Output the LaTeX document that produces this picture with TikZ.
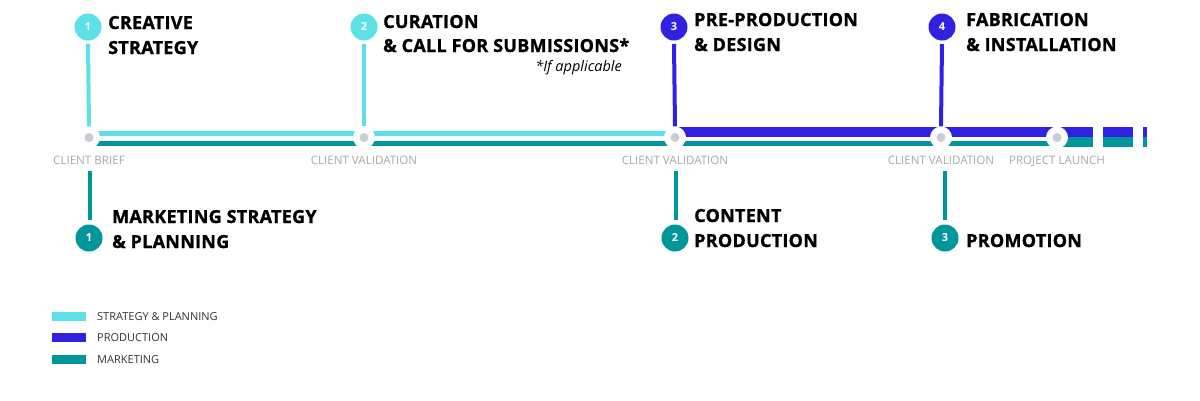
\documentclass[tikz,border=0pt]{standalone}
\usepackage{fontspec}
\setmainfont{Open Sans}
\newfontfamily\heavy[FakeBold=1.1,LetterSpace=1.5]{Open Sans}
\definecolor{cyanS}{HTML}{5CE1E6}
\definecolor{blueP}{HTML}{3022E0}
\definecolor{tealM}{HTML}{00979B}
\definecolor{dotgray}{HTML}{C9CED6}
\definecolor{lblgray}{HTML}{A8A8A8}
\definecolor{legtext}{HTML}{333333}
\tikzset{
  head/.style={anchor=base west, inner sep=0pt, font=\heavy\bfseries\fontsize{18}{22}\selectfont, text=black},
  num/.style={circle, minimum size=27pt, inner sep=0pt, font=\bfseries\fontsize{11}{13}\selectfont, text=white},
  milestone/.style={circle, fill=white, minimum size=22pt, inner sep=0pt},
  mdot/.style={circle, fill=dotgray, minimum size=9pt, inner sep=0pt},
  lbl/.style={anchor=base, inner sep=0pt, font=\fontsize{11.6}{13}\selectfont, text=lblgray},
  legtxt/.style={anchor=west, inner sep=0pt, font=\fontsize{11}{12}\selectfont, text=legtext},
}
\begin{document}
\begin{tikzpicture}[x=1pt,y=-1pt]
\useasboundingbox (0,0) rectangle (1200,400);
% milestone coordinates
\coordinate (m1) at (89,137.5);
\coordinate (m2) at (364,137.5);
\coordinate (m3) at (675,137.5);
\coordinate (m4) at (941,137.5);
\coordinate (m5) at (1057,137.5);
% main lines
\draw[cyanS, line width=5pt] (89,133.5) -- (675,133.5);
\draw[tealM, line width=5pt] (89,143.5) -- (1057,143.5);
\draw[blueP, line width=10pt] (675,132) -- (1057,132);
% dashed tail after launch
\fill[blueP] (1057,127) rectangle (1093,137);
\fill[blueP] (1103,127) rectangle (1133,137);
\fill[blueP] (1143,127) rectangle (1147,137);
\fill[tealM] (1057,137) rectangle (1093,147);
\fill[tealM] (1103,137) rectangle (1133,147);
\fill[tealM] (1143,137) rectangle (1147,147);
% top step circles
\node[num, fill=cyanS] (c1) at (88,27) {1};
\node[num, fill=cyanS] (c2) at (364,27) {2};
\node[num, fill=blueP] (c3) at (674,27) {3};
\node[num, fill=blueP] (c4) at (942,27) {4};
% bottom step circles
\node[num, fill=tealM] (b1) at (89,238) {1};
\node[num, fill=tealM] (b2) at (675,238) {2};
\node[num, fill=tealM] (b3) at (945,238) {3};
% milestones
\foreach \i in {1,...,5}{
  \node[milestone] (w\i) at (m\i) {};
}
% vertical connectors top
\draw[cyanS, line width=4pt] (88,44) -- (w1.north);
\draw[cyanS, line width=4pt] (364,44) -- (w2.north);
\draw[blueP, line width=4pt] (674,44) -- (w3.north);
\draw[blueP, line width=4pt] (942,44) -- (w4.north);
% vertical connectors bottom
\draw[tealM, line width=4pt] (90,171) -- (90,220);
\draw[tealM, line width=4pt] (676,171) -- (676,220);
\draw[tealM, line width=4pt] (945,171) -- (945,220);
\foreach \i in {1,...,5}{
  \node[mdot] (d\i) at (m\i) {};
}
% milestone labels
\node[lbl] (l1) at (89,164) {CLIENT BRIEF};
\node[lbl] (l2) at (364,164) {CLIENT VALIDATION};
\node[lbl] (l3) at (675,164) {CLIENT VALIDATION};
\node[lbl] (l4) at (941,164) {CLIENT VALIDATION};
\node[lbl] (l5) at (1057,164) {PROJECT LAUNCH};
% top headings
\node[head] (t1a) at (108,29) {CREATIVE};
\node[head] (t1b) at (108,54) {STRATEGY};
\node[head] (t2a) at (383,28) {CURATION};
\node[head] (t2b) at (383,52) {\&~CALL FOR SUBMISSIONS*};
\node[anchor=base east, inner sep=0pt, font=\itshape\fontsize{14.5}{16}\selectfont] (t2c) at (622,71) {*If applicable};
\node[head] (t3a) at (694,26) {PRE-PRODUCTION};
\node[head] (t3b) at (694,51) {\&~DESIGN};
\node[head] (t4a) at (966,26) {FABRICATION};
\node[head] (t4b) at (966,51) {\&~INSTALLATION};
% bottom headings
\node[head] (s1a) at (112,223) {MARKETING STRATEGY};
\node[head] (s1b) at (112,248) {\&~PLANNING};
\node[head] (s2a) at (694,222) {CONTENT};
\node[head] (s2b) at (694,247) {PRODUCTION};
\node[head] (s3a) at (966,247) {PROMOTION};
% legend
\fill[cyanS] (52,312) rectangle (86,321);
\fill[blueP] (52,333) rectangle (86,342);
\fill[tealM] (52,355) rectangle (86,364);
\node[legtxt] (g1) at (97,316.5) {STRATEGY \& PLANNING};
\node[legtxt] (g2) at (97,338) {PRODUCTION};
\node[legtxt] (g3) at (97,360) {MARKETING};
\end{tikzpicture}
\end{document}
